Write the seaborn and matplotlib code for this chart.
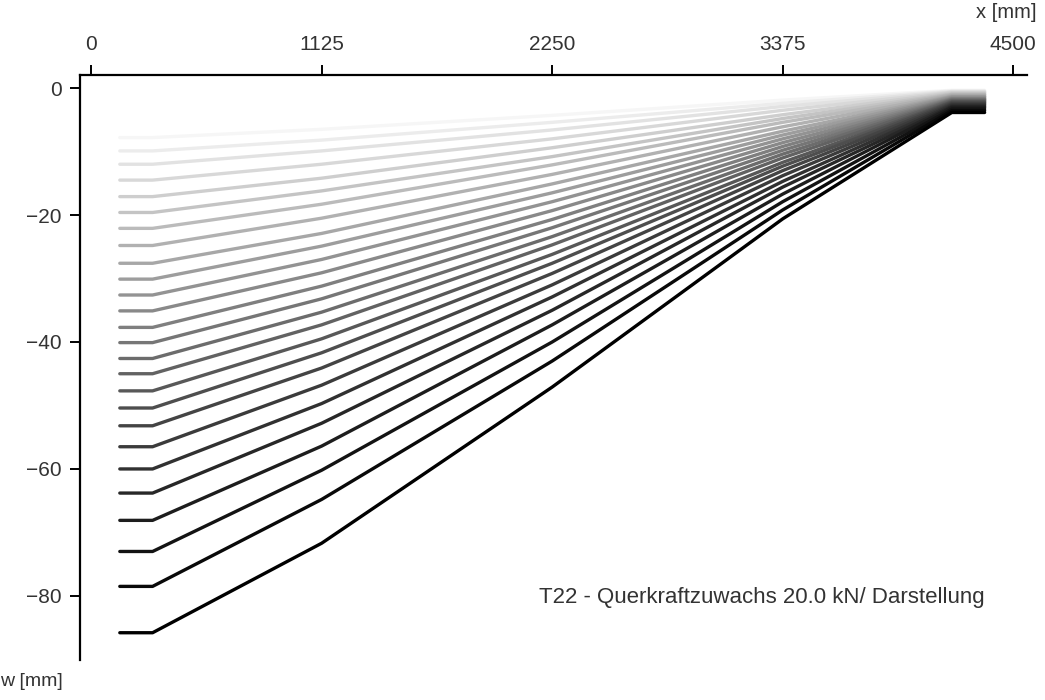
import numpy as np
import pandas as pd
import seaborn as sns
import matplotlib.pyplot as plt

# measuring points along the beam [mm]
x_points = [140, 300, 1125, 2250, 3375, 4200, 4360]

# deflection w [mm] per load step (20 kN increments)
w_start = [-7.8, -9.9, -12.0, -14.5, -17.1, -19.6, -22.1, -24.8, -27.6, -30.1,
           -32.6, -35.1, -37.7, -40.1, -42.6, -45.0, -47.7, -50.4, -53.2, -56.5,
           -60.0, -63.8, -68.1, -73.0, -78.5, -85.8]
w_1125 = [-6.5, -8.2, -9.9, -12.0, -14.2, -16.2, -18.3, -20.5, -22.9, -24.9,
          -27.0, -29.1, -31.2, -33.2, -35.3, -37.3, -39.5, -41.7, -44.1, -46.8,
          -49.7, -52.8, -56.4, -60.2, -64.8, -71.7]
w_2250 = [-4.3, -5.4, -6.6, -8.0, -9.4, -10.8, -12.1, -13.6, -15.1, -16.5,
          -17.9, -19.3, -20.7, -22.0, -23.4, -24.7, -26.2, -27.6, -29.2, -31.0,
          -32.9, -35.0, -37.3, -40.0, -43.0, -47.1]
w_3375 = [-1.9, -2.4, -2.9, -3.5, -4.2, -4.8, -5.4, -6.1, -6.8, -7.4,
          -8.0, -8.6, -9.2, -9.8, -10.4, -11.0, -11.7, -12.3, -13.0, -13.8,
          -14.7, -15.6, -16.7, -17.9, -19.2, -20.6]
w_end = [-0.35, -0.45, -0.55, -0.65, -0.75, -0.9, -1.0, -1.1, -1.25, -1.35,
         -1.45, -1.6, -1.7, -1.8, -1.9, -2.0, -2.15, -2.25, -2.4, -2.55,
         -2.7, -2.9, -3.05, -3.3, -3.55, -3.85]

rows = []
for step in range(len(w_start)):
    ws = [w_start[step], w_start[step], w_1125[step], w_2250[step],
          w_3375[step], w_end[step], w_end[step]]
    for x, w in zip(x_points, ws):
        rows.append({"x": x, "w": w, "step": step})
df = pd.DataFrame(rows)

sns.set_style("ticks")
plt.rcParams['font.family'] = ['Liberation Sans', 'DejaVu Sans']
plt.rcParams['axes.unicode_minus'] = True

fig = plt.figure(figsize=(10.45, 7), dpi=100)
ax = fig.add_axes([0.0766, 0.0571, 0.9064, 0.8357])

# white -> black, first (white) colour dropped
palette = sns.blend_palette(["white", "black"], len(w_start) + 1)[1:]
sns.lineplot(data=df, x="x", y="w", hue="step", palette=palette,
             estimator=None, linewidth=2.4, legend=False, ax=ax)

ax.set_xlim(-54, 4568)
ax.set_ylim(-90.1, 2.05)
ax.set_xticks([0, 1125, 2250, 3375, 4500])
ax.set_yticks([0, -20, -40, -60, -80])
ax.xaxis.tick_top()
ax.spines['right'].set_visible(False)
ax.spines['bottom'].set_visible(False)
for s in ['left', 'top']:
    ax.spines[s].set_linewidth(1.6)
    ax.spines[s].set_color('black')
ax.tick_params(axis='both', direction='out', length=7, width=1.4,
               labelsize=15, colors='#333333')
ax.tick_params(axis='both', color='black')
ax.tick_params(axis='x', pad=8)
ax.tick_params(axis='y', pad=6)
ax.set_xlabel("")
ax.set_ylabel("")

ax.text(1.01, 1.09, "x [mm]", transform=ax.transAxes, ha='right', va='bottom',
        fontsize=14.5, color='#333333')
ax.text(-0.085, -0.022, "w [mm]", transform=ax.transAxes, ha='left', va='top',
        fontsize=14, color='#333333')
ax.text(4360, -80.3, "T22 - Querkraftzuwachs 20.0 kN/ Darstellung",
        ha='right', va='center', fontsize=16, color='#333333')

fig.savefig("out.png", dpi=100)
